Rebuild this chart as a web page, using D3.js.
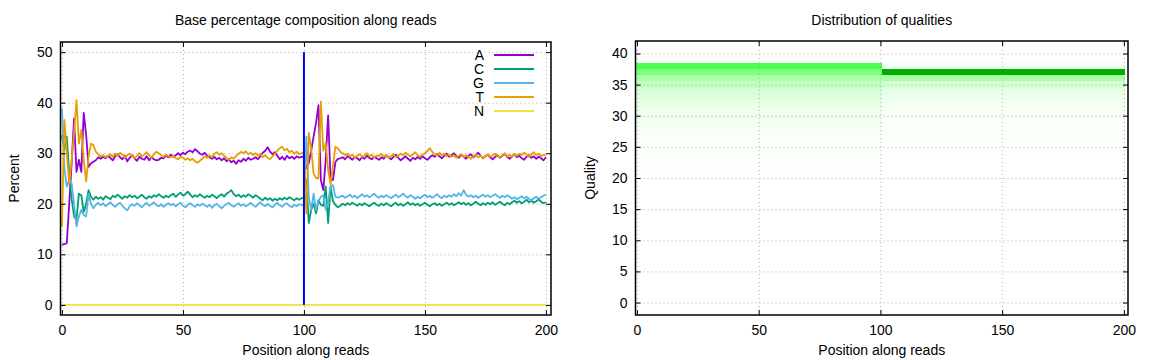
<!DOCTYPE html>
<html>
<head>
<meta charset="utf-8">
<script src="https://cdn.jsdelivr.net/npm/d3@7"></script>
<style>
  html, body { margin: 0; padding: 0; background: #ffffff; }
  svg { display: block; }
</style>
</head>
<body>
<script>
// ---------------- DATA ----------------
const positions = d3.range(0, 201);           // position along reads (categories)
const readBoundary = 100;                      // end of read 1
const positionTicks = [0, 50, 100, 150, 200];
const percentTicks = [0, 10, 20, 30, 40, 50];
const qualityTicks = [0, 5, 10, 15, 20, 25, 30, 35, 40];
const seriesNames = ["A", "C", "G", "T", "N"];

const baseA = [
  11.9,12.0,12.2,20,28,36.9,26.3,28.7,26.3,38,33.6,27.3,28,28.3,28.6,
  29.2,28.9,29.3,29.0,29.5,29.1,28.6,29.4,29.8,29.2,28.8,29.5,28.4,29.1,29.6,
  29.0,28.5,29.3,28.9,28.7,29.4,28.6,29.2,28.8,28.6,28.7,29.1,29.0,29.5,29.2,
  29.7,29.3,29.6,30.0,29.6,30.1,29.8,30.3,30.5,30.2,30.8,30.4,29.9,29.7,30.1,
  29.5,29.2,28.9,29.3,28.8,29.1,28.6,29.0,28.4,28.8,28.2,28.5,27.9,28.6,28.3,
  28.9,28.5,29.1,28.7,28.9,29.2,28.8,29.4,30.1,30.5,31.2,30.3,29.8,30.2,29.5,
  28.8,29.3,28.7,29.5,29.0,29.3,28.9,29.4,29.1,29.3,
  29.3,
  27,28,30.5,33.3,36,39.5,24.7,22.7,28.7,37.5,25,24.7,28.2,28.9,29,
  29.2,28.8,29.4,29.1,28.7,29.3,29.0,28.6,29.2,28.9,29.5,29.1,28.8,29.3,29.0,
  28.7,29.2,28.9,29.6,29.2,28.8,29.3,29.7,29.1,28.6,29.0,29.4,28.9,28.5,29.1,
  28.8,29.3,28.9,29.4,29.0,28.7,29.2,29.6,29.3,29.8,29.4,29.0,29.5,29.9,29.3,
  29.6,30.0,29.4,29.1,29.7,29.3,28.9,29.5,29.8,29.2,29.6,30.1,29.5,29.0,29.4,
  29.7,29.2,28.8,29.3,29.6,29.1,29.5,29.9,29.3,28.9,29.4,29.8,29.2,29.5,29.0,
  28.7,29.3,29.6,29.1,29.4,28.9,29.3,29.0,28.6,29.2
];
const baseC = [
  33.6,30.6,33.3,26,21,17.5,16.8,22,21.7,18.4,20,22.7,21.4,20.8,21.4,
  21.0,21.3,20.8,21.5,21.2,20.9,21.6,21.3,21.8,21.4,21.0,21.5,21.2,21.7,21.3,
  21.6,21.1,21.4,21.8,21.3,21.0,21.5,21.2,21.7,21.4,21.9,21.5,21.2,21.6,21.3,
  21.7,22.0,21.4,21.8,22.2,21.6,21.9,22.4,21.8,21.3,21.7,21.4,21.9,21.5,21.2,
  21.6,21.3,21.8,21.5,21.1,21.6,21.9,21.4,22.0,22.3,22.7,21.9,21.5,21.8,21.3,
  21.7,21.4,21.9,21.6,21.2,21.7,21.4,21.0,20.7,21.2,20.8,21.1,20.6,21.0,20.7,
  21.1,20.8,21.2,20.9,21.3,21.0,20.7,21.1,20.8,21.1,
  21.1,
  24.7,16.2,18.8,20,18.1,20.7,19.8,19.6,23.4,16.2,23.4,20.5,19.8,19.3,19.6,
  20.0,19.7,20.1,19.8,20.2,19.9,19.6,20.0,19.7,20.1,19.8,19.5,19.9,20.2,19.8,
  19.6,20.0,19.7,20.1,19.8,19.5,19.9,20.2,19.7,20.0,19.6,19.9,20.3,19.8,20.1,
  19.7,20.0,19.6,19.9,20.2,19.8,19.5,19.9,20.1,19.7,20.0,19.6,19.9,20.2,19.8,
  20.1,19.7,20.0,20.3,19.9,20.2,19.8,20.1,19.7,20.0,20.4,20.0,19.7,20.1,19.8,
  20.2,19.9,20.3,19.8,20.1,20.4,20.0,19.7,20.2,19.9,20.3,20.6,20.2,20.5,20.1,
  20.4,20.8,20.3,20.6,20.2,20.5,20.9,20.4,20.1,20.3
];
const baseG = [
  38.9,27,23.4,24.7,24,20,15.5,17.5,18.8,17.8,17.5,22,20,19.1,19.8,
  20.2,19.7,20.1,19.5,19.9,20.3,19.8,19.4,19.9,20.2,19.6,19.1,18.7,19.5,19.9,
  19.6,20.1,19.7,19.3,19.8,20.2,19.6,19.9,20.3,19.8,19.5,19.9,19.4,19.8,20.1,
  19.7,20.0,19.5,19.9,20.2,19.6,19.3,19.8,20.1,19.7,19.4,19.9,19.6,20.0,19.7,
  19.4,19.8,19.2,19.7,20.0,19.5,19.1,19.6,19.9,20.2,19.7,19.4,19.8,20.1,19.6,
  19.9,19.5,19.8,20.2,19.7,19.4,19.9,20.3,19.8,19.5,20.0,19.6,19.3,19.8,20.2,
  19.7,19.4,19.9,20.1,19.6,19.3,19.8,19.5,19.9,19.8,
  19.8,
  33.3,21.4,18.8,22,18.8,20.5,21.4,21.7,18.8,20.5,23.4,23.7,21.4,21.2,21.4,
  21.6,21.2,21.5,21.8,21.3,21.6,21.1,21.5,21.9,21.4,21.7,21.3,21.6,22.0,21.5,
  21.2,21.6,21.3,21.7,21.4,21.1,21.5,21.8,21.3,21.6,22.0,21.5,21.2,21.7,21.4,
  21.0,21.4,21.1,21.5,21.8,21.3,21.6,21.2,21.5,21.9,21.4,21.1,21.6,21.3,21.7,
  21.4,21.9,21.5,22.1,21.6,22.7,21.8,21.4,21.7,21.3,21.6,21.2,21.5,21.8,21.4,
  21.7,21.3,21.6,21.9,21.5,21.2,21.6,21.3,21.7,21.4,21.0,21.3,20.9,21.2,21.5,
  21.1,21.4,21.0,20.7,21.1,21.4,21.0,21.3,21.6,21.8
];
const baseT = [
  15.5,36.6,30,24,28.7,34,40.5,31.9,34.6,28.7,24.4,29.3,31.9,31.6,30.3,
  29.8,29.4,29.6,29.2,29.5,29.8,29.3,29.9,29.5,30.1,29.7,29.2,29.6,29.9,29.4,
  29.0,29.5,30.0,29.4,29.7,30.2,29.6,29.1,29.8,30.3,30.0,29.6,29.3,29.7,29.4,
  29.2,29.5,29.0,28.8,29.3,29.1,28.7,29.0,28.6,28.9,28.4,28.1,28.5,28.9,29.4,
  29.1,29.6,29.2,29.9,30.2,29.7,30.0,29.5,29.1,28.7,29.2,28.9,29.5,29.9,30.3,
  30.0,30.4,29.8,30.1,29.6,30.0,29.5,29.9,29.2,29.6,29.1,28.8,29.4,29.9,30.5,
  31.0,31.3,30.6,30.9,30.2,30.5,29.9,30.3,29.8,30.0,
  30.0,
  18.1,34,30.8,26,25.1,25.0,40.2,30.5,32,26.7,23.8,27.5,31.3,31,30.3,
  30.0,29.6,29.9,29.4,29.7,29.2,29.5,29.8,29.3,29.6,30.0,29.4,29.7,29.2,29.5,
  29.5,29.9,29.3,29.6,29.1,29.4,29.8,29.2,29.5,29.9,29.6,30.1,29.7,29.4,29.8,
  30.2,29.6,29.3,29.7,30.0,30.4,31.0,30.3,29.8,29.5,30.1,29.6,29.9,29.4,29.7,
  29.3,29.6,29.1,29.5,29.8,29.2,29.6,29.3,28.9,29.4,29.7,29.2,29.5,29.0,29.4,
  29.8,29.3,29.6,29.9,29.5,29.1,29.6,30.0,29.4,29.7,29.3,29.8,29.5,29.9,29.6,
  30.1,29.7,29.3,29.8,30.2,29.6,29.9,29.4,29.7,29.5
];
const baseN = [
  0,0,0,0,0,0,0,0,0,0,0,0,0,0,0,0,0,0,0,0,
  0,0,0,0,0,0,0,0,0,0,0,0,0,0,0,0,0,0,0,0,
  0,0,0,0,0,0,0,0,0,0,0,0,0,0,0,0,0,0,0,0,
  0,0,0,0,0,0,0,0,0,0,0,0,0,0,0,0,0,0,0,0,
  0,0,0,0,0,0,0,0,0,0,0,0,0,0,0,0,0,0,0,0,
  0,0,0,0,0,0,0,0,0,0,0,0,0,0,0,0,0,0,0,0,
  0,0,0,0,0,0,0,0,0,0,0,0,0,0,0,0,0,0,0,0,
  0,0,0,0,0,0,0,0,0,0,0,0,0,0,0,0,0,0,0,0,
  0,0,0,0,0,0,0,0,0,0,0,0,0,0,0,0,0,0,0,0,
  0,0,0,0,0,0,0,0,0,0,0,0,0,0,0,0,0,0,0,0,
  0
];

// quality distribution (share of reads at each quality), read 1 vs read 2
const qualities    = [38, 37, 36, 35, 34, 33, 32, 31, 30, 29, 28, 27, 26, 25, 24, 23, 22, 21];
const read1Density = [0.35, 0.25, 0.17, 0.12, 0.085, 0.065, 0.05, 0.04, 0.032, 0.026, 0.02, 0.016, 0.012, 0.009, 0.007, 0.005, 0.004, 0.003];
const read2Density = [0.03, 0.81, 0.17, 0.08, 0.05, 0.035, 0.025, 0.02, 0.015, 0.012, 0.009, 0.007, 0.005, 0.004, 0.003, 0.002, 0.001, 0.001];

// ---------------- STYLE ----------------
const FONT = '"Liberation Sans", Arial, Helvetica, sans-serif';
const FS = 14;
const colors = { A: "#9400d3", C: "#009e73", G: "#56b4e9", T: "#e69f00", N: "#f0e442" };
const gridColor = "#b0b0b0";

const svg = d3.select("body").append("svg")
  .attr("width", 1152).attr("height", 360)
  .style("font-family", FONT);
svg.append("rect").attr("width", 1152).attr("height", 360).attr("fill", "#ffffff");

function styleAxisText(g) {
  g.selectAll("text").attr("font-family", FONT).attr("font-size", FS).attr("fill", "#000");
  g.attr("font-family", null).attr("font-size", null);
}

function drawGrid(g, xs, ys, xTicks, yTicks, box) {
  const gx = g.append("g").attr("transform", `translate(0,${box.bottom})`)
    .call(d3.axisBottom(xs).tickValues(xTicks).tickSize(-(box.bottom - box.top)).tickFormat(""));
  gx.select(".domain").remove();
  gx.selectAll("line").attr("stroke", gridColor).attr("stroke-dasharray", "1,3").attr("stroke-width", 1);
  const gy = g.append("g").attr("transform", `translate(${box.left},0)`)
    .call(d3.axisLeft(ys).tickValues(yTicks).tickSize(-(box.right - box.left)).tickFormat(""));
  gy.select(".domain").remove();
  gy.selectAll("line").attr("stroke", gridColor).attr("stroke-dasharray", "1,3").attr("stroke-width", 1);
}

function drawFrame(g, xs, ys, xTicks, yTicks, box) {
  const bottom = g.append("g").attr("transform", `translate(0,${box.bottom})`)
    .call(d3.axisBottom(xs).tickValues(xTicks).tickSize(-5).tickPadding(10));
  const top = g.append("g").attr("transform", `translate(0,${box.top})`)
    .call(d3.axisTop(xs).tickValues(xTicks).tickSize(-5).tickFormat(""));
  const left = g.append("g").attr("transform", `translate(${box.left},0)`)
    .call(d3.axisLeft(ys).tickValues(yTicks).tickSize(-5).tickPadding(8));
  const right = g.append("g").attr("transform", `translate(${box.right},0)`)
    .call(d3.axisRight(ys).tickValues(yTicks).tickSize(-5).tickFormat(""));
  [bottom, top, left, right].forEach(a => {
    a.select(".domain").remove();
    a.selectAll("line").attr("stroke", "#000").attr("stroke-width", 1);
    styleAxisText(a);
  });
  g.append("rect")
    .attr("x", box.left).attr("y", box.top)
    .attr("width", box.right - box.left).attr("height", box.bottom - box.top)
    .attr("fill", "none").attr("stroke", "#000").attr("stroke-width", 1.5);
}

function drawLabels(g, box, title, xlabel, ylabel, ylabelX) {
  const cx = (box.left + box.right) / 2;
  g.append("text").attr("x", cx).attr("y", 25).attr("text-anchor", "middle")
    .attr("font-size", FS).text(title);
  g.append("text").attr("x", cx).attr("y", 355).attr("text-anchor", "middle")
    .attr("font-size", FS).text(xlabel);
  g.append("text")
    .attr("transform", `translate(${ylabelX},${(box.top + box.bottom) / 2}) rotate(-90)`)
    .attr("text-anchor", "middle").attr("font-size", FS).text(ylabel);
}

// ---------------- LEFT PANEL ----------------
const LB = { left: 60.5, right: 551, top: 42, bottom: 315 };
const xL = d3.scaleLinear().domain([-0.6, 202.1]).range([LB.left, LB.right]);
const yL = d3.scaleLinear().domain([-2, 52]).range([LB.bottom, LB.top]);
const left = svg.append("g");

drawGrid(left, xL, yL, positionTicks, percentTicks, LB);

const seriesValues = { A: baseA, C: baseC, G: baseG, T: baseT, N: baseN };
const line = d3.line().x(d => xL(d.pos)).y(d => yL(d.v));
const plot = left.append("g");
seriesNames.forEach(name => {
  const pts = positions.map((p, i) => ({ pos: p, v: seriesValues[name][i] }));
  plot.append("path").datum(pts)
    .attr("d", line)
    .attr("fill", "none")
    .attr("stroke", colors[name])
    .attr("stroke-width", 1.8)
    .attr("stroke-linejoin", "round");
});

// read boundary
plot.append("line")
  .attr("x1", xL(readBoundary)).attr("x2", xL(readBoundary))
  .attr("y1", yL(0)).attr("y2", yL(50))
  .attr("stroke", "#0000ff").attr("stroke-width", 2);

drawFrame(left, xL, yL, positionTicks, percentTicks, LB);
drawLabels(left, LB, "Base percentage composition along reads", "Position along reads", "Percent", 19);

// legend
const legend = left.append("g");
seriesNames.forEach((name, i) => {
  const yc = 55 + i * 14;
  legend.append("text").attr("x", 484).attr("y", yc + 5).attr("text-anchor", "end")
    .attr("font-size", FS).text(name);
  legend.append("line").attr("x1", 494).attr("x2", 534).attr("y1", yc).attr("y2", yc)
    .attr("stroke", colors[name]).attr("stroke-width", 1.8);
});

// ---------------- RIGHT PANEL ----------------
const RB = { left: 635.5, right: 1128, top: 41, bottom: 315 };
const xR = d3.scaleLinear().domain([-0.6, 201.7]).range([RB.left, RB.right]);
const yR = d3.scaleLinear().domain([-2, 42]).range([RB.bottom, RB.top]);
const right = svg.append("g");

drawGrid(right, xR, yR, positionTicks, qualityTicks, RB);

const greenHigh = d3.interpolateRgb("#00ff00", "#008000");
const cells = [];
qualities.forEach((q, qi) => {
  positions.forEach(p => {
    const d = p <= readBoundary ? read1Density[qi] : read2Density[qi];
    cells.push({ q, p, d });
  });
});
right.append("g").attr("shape-rendering", "crispEdges")
  .selectAll("rect").data(cells).join("rect")
  .attr("x", c => xR(c.p - 0.5))
  .attr("width", c => xR(c.p + 0.5) - xR(c.p - 0.5))
  .attr("y", c => yR(c.q + 0.5))
  .attr("height", c => yR(c.q - 0.5) - yR(c.q + 0.5))
  .attr("fill", c => c.d <= 0.5 ? "#00ff00" : greenHigh((c.d - 0.5) / 0.5))
  .attr("fill-opacity", c => c.d <= 0.5 ? c.d / 0.5 : 1);

drawFrame(right, xR, yR, positionTicks, qualityTicks, RB);
drawLabels(right, RB, "Distribution of qualities", "Position along reads", "Quality", 595);
</script>
</body>
</html>
